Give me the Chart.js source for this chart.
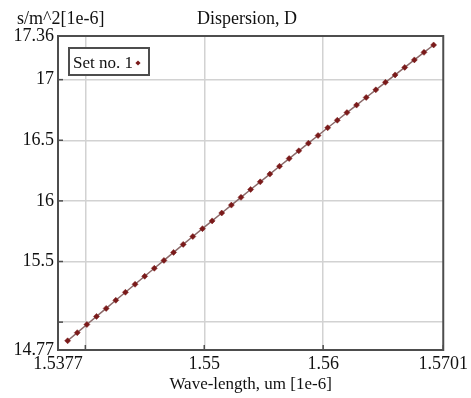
<!DOCTYPE html>
<html>
<head>
<meta charset="utf-8">
<script src="https://cdn.jsdelivr.net/npm/chart.js@4/dist/chart.umd.min.js"></script>
<style>
html,body{margin:0;padding:0;background:#fff;}
#wrap{position:relative;width:471px;height:398px;}
canvas{display:block;}
</style>
</head>
<body>
<div id="wrap"><canvas id="c" width="471" height="398"></canvas></div>
<script>
const chartTitle = "Dispersion, D";
const yUnitLabel = "s/m^2[1e-6]";
const xAxisTitle = "Wave-length, um [1e-6]";
const seriesName = "Set no. 1";

const wavelength = [1.53851,1.53932,1.54013,1.54094,1.54175,1.54256,1.54337,1.54418,1.54499,1.54580,
  1.54661,1.54742,1.54823,1.54904,1.54985,1.55066,1.55147,1.55228,1.55309,1.55390,
  1.55471,1.55552,1.55633,1.55714,1.55795,1.55876,1.55957,1.56038,1.56119,1.56200,
  1.56281,1.56362,1.56443,1.56524,1.56605,1.56686,1.56767,1.56848,1.56929];
const dispersion = [14.846,14.913,14.980,15.047,15.113,15.180,15.246,15.312,15.378,15.444,
  15.509,15.575,15.641,15.706,15.771,15.835,15.900,15.965,16.029,16.094,
  16.157,16.221,16.286,16.349,16.413,16.476,16.539,16.603,16.665,16.728,
  16.790,16.853,16.916,16.978,17.039,17.101,17.163,17.225,17.286];

const xTickValues = [1.5377, 1.54, 1.55, 1.56, 1.5701];
const xTickLabels = ["1.5377", "", "1.55", "1.56", "1.5701"];
const yTickValues = [14.77, 15, 15.5, 16, 16.5, 17, 17.36];
const yTickLabels = ["14.77", "", "15.5", "16", "16.5", "17", "17.36"];

const FONT = '"Liberation Serif", "Times New Roman", serif';
const TEXT = '#111';
const FRAME = '#4d4d4d';
const GRID = '#d2d2d2';
const MARK = '#7a1a1a';
const LINE = '#8c6a6a';

const extras = {
  id: 'extras',
  afterDraw(chart) {
    const ctx = chart.ctx, a = chart.chartArea;
    const xs = chart.scales.x, ys = chart.scales.y;
    ctx.save();
    // inner tick marks
    ctx.strokeStyle = FRAME; ctx.lineWidth = 1.5;
    xTickValues.forEach(v => {
      const px = xs.getPixelForValue(v);
      ctx.beginPath(); ctx.moveTo(px, a.bottom); ctx.lineTo(px, a.bottom - 5); ctx.stroke();
    });
    yTickValues.forEach(v => {
      const py = ys.getPixelForValue(v);
      ctx.beginPath(); ctx.moveTo(a.left, py); ctx.lineTo(a.left + 5, py); ctx.stroke();
    });
    // frame
    ctx.lineWidth = 2; ctx.strokeStyle = FRAME;
    ctx.strokeRect(a.left, a.top, a.right - a.left, a.bottom - a.top);
    // texts
    ctx.fillStyle = TEXT;
    ctx.textBaseline = 'alphabetic';
    ctx.font = '18px ' + FONT;
    ctx.textAlign = 'left';
    ctx.fillText(yUnitLabel, 17, 24);
    ctx.textAlign = 'center';
    ctx.fillText(chartTitle, 247, 24);
    ctx.font = '17px ' + FONT;
    ctx.fillText(xAxisTitle, (a.left + a.right) / 2, 389);
    // legend
    const lx = 69, ly = 48, lw = 80, lh = 27;
    ctx.fillStyle = '#fff';
    ctx.fillRect(lx, ly, lw, lh);
    ctx.strokeStyle = FRAME; ctx.lineWidth = 2;
    ctx.strokeRect(lx, ly, lw, lh);
    ctx.fillStyle = TEXT; ctx.textAlign = 'left';
    ctx.font = '17px ' + FONT;
    ctx.fillText(seriesName, lx + 4, ly + 20);
    ctx.fillStyle = MARK;
    ctx.beginPath();
    const mx = lx + 69, my = ly + 15, r = 2.6;
    ctx.moveTo(mx, my - r); ctx.lineTo(mx + r, my); ctx.lineTo(mx, my + r); ctx.lineTo(mx - r, my); ctx.closePath();
    ctx.fill();
    ctx.restore();
  }
};

new Chart(document.getElementById('c'), {
  type: 'line',
  data: {
    datasets: [{
      label: seriesName,
      data: wavelength.map((x, i) => ({x: x, y: dispersion[i]})),
      borderColor: LINE,
      borderWidth: 1.5,
      pointStyle: 'rectRot',
      pointRadius: 3,
      pointBackgroundColor: MARK,
      pointBorderColor: MARK,
      pointBorderWidth: 0.5,
      tension: 0,
      fill: false
    }]
  },
  options: {
    responsive: false,
    animation: false,
    devicePixelRatio: 1,
    layout: { padding: { top: 36, right: 23, left: 0, bottom: 0 } },
    plugins: { legend: { display: false }, tooltip: { enabled: false }, title: { display: false } },
    scales: {
      x: {
        type: 'linear',
        min: 1.5377, max: 1.5701,
        afterBuildTicks: s => { s.ticks = xTickValues.map(v => ({value: v})); },
        afterFit: s => { s.height = 48; },
        ticks: {
          autoSkip: false, maxRotation: 0, minRotation: 0, padding: 3,
          color: TEXT, font: { family: FONT, size: 18 },
          callback: (v, i) => xTickLabels[i]
        },
        grid: {
          drawTicks: false,
          color: ctx => (ctx.index === 0 || ctx.index === xTickValues.length - 1) ? 'rgba(0,0,0,0)' : GRID,
          lineWidth: 1.5
        },
        border: { display: false }
      },
      y: {
        type: 'linear',
        min: 14.77, max: 17.36,
        afterBuildTicks: s => { s.ticks = yTickValues.map(v => ({value: v})); },
        afterFit: s => { s.width = 58; },
        ticks: {
          autoSkip: false, padding: 4,
          color: TEXT, font: { family: FONT, size: 18 },
          callback: (v, i) => yTickLabels[i]
        },
        grid: {
          drawTicks: false,
          color: ctx => (ctx.index === 0 || ctx.index === yTickValues.length - 1) ? 'rgba(0,0,0,0)' : GRID,
          lineWidth: 1.5
        },
        border: { display: false }
      }
    }
  },
  plugins: [extras]
});
</script>
</body>
</html>
